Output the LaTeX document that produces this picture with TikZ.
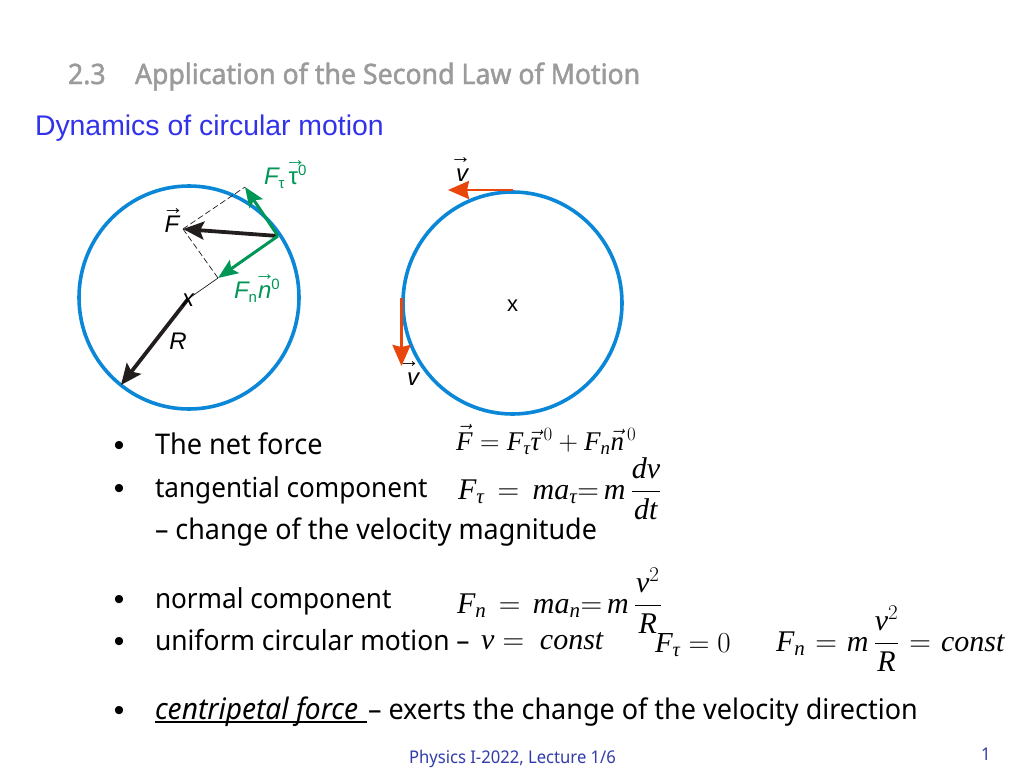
\RequirePackage{fix-cm}
\documentclass[tikz,border=0pt]{standalone}
\usepackage{amsmath}
\usepackage{fontspec}
\setmainfont{Noto Sans}[FakeStretch=0.95]
\newfontfamily\arialf{Liberation Sans}
\newfontfamily\titlef{Noto Sans}[FakeStretch=0.95,FakeBold=1.6]
\newfontfamily\serifm{Liberation Serif}[NFSSFamily=libs]
\DeclareSymbolFont{sletters}{TU}{libs}{m}{it}
\DeclareSymbolFont{sdigits}{TU}{libs}{m}{n}
\makeatletter
\def\setmletters#1{\@tfor\q:=#1\do{\expandafter\setoneletter\q}}
\def\setoneletter#1{\Umathcode`#1="7 \symsletters `#1\relax}
\makeatother
\setmletters{FRmandvtcons}
\Umathcode`0="7 \symsdigits `0\relax
\Umathcode`2="7 \symsdigits `2\relax
\Umathchardef\mytau="7 \symsletters "03C4\relax
\usetikzlibrary{arrows.meta}
\definecolor{circblue}{RGB}{10,135,215}
\definecolor{arrgreen}{RGB}{0,150,85}
\definecolor{arrred}{RGB}{232,70,10}
\definecolor{arrblack}{RGB}{35,30,30}
\definecolor{titlegray}{RGB}{155,155,155}
\definecolor{headblue}{RGB}{50,50,235}
\definecolor{footblue}{RGB}{50,60,170}
% letter with a thin arrow centred above it (optional shift)
\newsavebox{\vecbox}
\newcommand{\sfvec}[2][0pt]{\leavevmode\sbox{\vecbox}{#2}\hbox to \wd\vecbox{\hss\hspace{#1}\raisebox{18pt}{\upshape\fontsize{21}{21}\selectfont\arialf →}\hspace{-#1}\hss}\kern-\wd\vecbox #2}
\newcommand{\subt}[1]{\raisebox{-4pt}{\upshape\fontsize{15}{15}\selectfont #1}}
\newcommand{\supt}[1]{\raisebox{9pt}{\upshape\fontsize{15}{15}\selectfont #1}}
\tikzset{
  x=1pt,y=-1pt,
  txt/.style={anchor=base west,inner sep=0pt,outer sep=0pt},
  body/.style={txt,font=\fontsize{27.5}{32}\selectfont,text=black},
  bull/.style={anchor=base,inner sep=0pt,font=\fontsize{30}{32}\selectfont\arialf,text=black},
  mth/.style={txt,font=\fontsize{30}{34}\selectfont,text=black},
  titletxt/.style={txt,font=\fontsize{28.1}{32}\selectfont\titlef,text=titlegray},
  foot/.style={txt,font=\fontsize{17.5}{20}\selectfont,text=footblue},
  lab/.style={anchor=base,inner sep=0pt,font=\fontsize{24}{28}\selectfont\arialf,text=black},
  glab/.style={txt,font=\fontsize{24}{28}\selectfont\arialf\color{arrgreen},text=arrgreen},
  orbit/.style={draw=circblue,line width=3.6pt},
  blackarr/.style={draw=arrblack,line width=3.8pt,-{Stealth[length=21pt,width=18pt,inset=4pt]}},
  greenarr/.style={draw=arrgreen,line width=3pt,-{Stealth[length=20pt,width=16pt,inset=4pt]}},
  redarr/.style={draw=arrred,line width=2.8pt,-{Stealth[length=21pt,width=18pt,inset=2pt]}},
  dashline/.style={draw=arrblack,line width=0.7pt,dash pattern=on 6pt off 3pt},
  thinline/.style={draw=arrblack,line width=0.7pt}
}
\begin{document}
\begin{tikzpicture}
\useasboundingbox[fill=white] (0,0) rectangle (1024,768);
% titles
\node[titletxt] (t1) at (68,84) {2.3};
\node[titletxt] (t2) at (135,84) {Application of the Second Law of Motion};
\node[txt,font=\fontsize{28.4}{32}\selectfont\arialf,text=headblue] (t3) at (35,135) {Dynamics of circular motion};
% left circle
\draw[orbit] (189,297.5) ellipse [x radius=110pt,y radius=111.5pt];
\coordinate (P) at (278,236);
\coordinate (Ftip) at (183,229);
\coordinate (Ttip) at (245,187);
\coordinate (Ntip) at (218,278);
\coordinate (O) at (188,299);
\coordinate (Rtip) at (121,385);
\draw[dashline] (Ftip) -- (Ttip);
\draw[dashline] (Ftip) -- (Ntip);
\draw[thinline] (Ntip) -- (O);
\draw[blackarr] (P) -- (Ftip);
\draw[greenarr] (P) -- (Ttip);
\draw[greenarr] (P) -- (Ntip);
\draw[blackarr] (O) -- (Rtip);
\node[lab] (lF) at (172,232) {\itshape\sfvec[1pt]{F}};
\node[lab] (lO) at (188,306) {\itshape x};
\node[lab] (lR) at (178,349) {\itshape R};
\node[glab] (lTau) at (264,184) {\itshape F\subt{τ}\hspace{4pt}\upshape\sfvec[2pt]{τ}\supt{0}};
\node[glab] (lN) at (234,298) {\itshape F\subt{n}\hspace{1pt}\sfvec{n}\supt{0}};
% right circle
\draw[orbit] (512.5,303) ellipse [x radius=109.5pt,y radius=111pt];
\coordinate (A) at (513,190);
\coordinate (Atip) at (448,190);
\coordinate (B) at (401.5,298);
\coordinate (Btip) at (401.5,366);
\draw[redarr] (A) -- (Atip);
\draw[redarr] (B) -- (Btip);
\node[lab] (lv1) at (462,181) {\itshape\sfvec[-1.5pt]{v}};
\node[lab] (lv2) at (413,385) {\itshape\sfvec[-4pt]{v}};
\node[lab,font=\fontsize{22}{24}\selectfont\arialf] (lc) at (512.5,311) {x};
% bullets
\foreach \n/\y in {b1/455,b2/498,b3/609,b4/651,b5/720}
  \node[bull] (\n) at (119,\y) {•};
\node[body,font=\fontsize{28.5}{32}\selectfont] (l1) at (155,454) {The net force};
\node[body] (l2) at (155,497) {tangential component};
\node[body,font=\fontsize{28.3}{32}\selectfont] (l3) at (155,539) {– change of the velocity magnitude};
\node[body] (l4) at (155,608) {normal component};
\node[body,font=\fontsize{27.8}{32}\selectfont] (l5) at (155,650) {uniform circular motion –};
\node[body,font=\fontsize{29.6}{32}\selectfont] (l6a) at (155,719) {\rlap{\rule[-3.5pt]{212pt}{1.6pt}}\itshape centripetal force};
\node[body,font=\fontsize{28.4}{32}\selectfont] (l6b) at (368,719) {– exerts the change of the velocity direction};
% formulas
\node[mth,font=\fontsize{27}{30}\selectfont] (e1) at (456,450) {$\vec F = F_\mytau\vec\mytau^{\,0} + F_n\vec n^{\,0}$};
\node[mth] (e2) at (458,499) {$\thickmuskip=8mu F_\mytau = ma_\mytau{=}\, m\,\dfrac{dv}{dt}$};
\node[mth] (e3) at (457,613) {$\thickmuskip=7.5mu F_n = ma_n{=}\, m\,\dfrac{\kern1pt v^2\kern1pt}{R}$};
\node[mth] (e4) at (481,649) {$v =\ const$};
\node[mth,font=\fontsize{29}{32}\selectfont] (e5) at (655,652) {$F_\mytau = 0$};
\node[mth] (e6) at (776,651) {$\thickmuskip=6mu F_n = m\,\dfrac{v^2}{R} = const$};
% footer
\node[foot] (f1) at (409,763) {Physics I-2022, Lecture 1/6};
\node[foot] (f2) at (981,760) {1};
\end{tikzpicture}
\end{document}
